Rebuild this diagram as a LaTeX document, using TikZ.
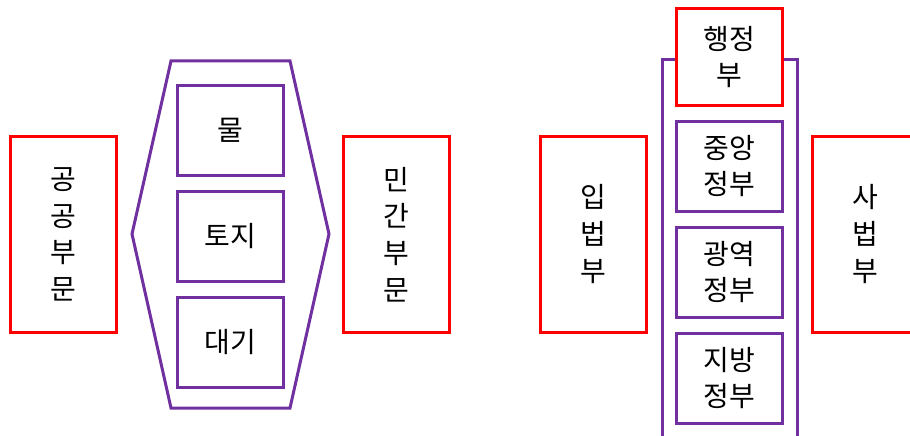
\documentclass[tikz,border=0pt]{standalone}
\usepackage{fontspec}
\setmainfont{Noto Sans CJK KR}
\usepackage{xcolor}
\usepackage{tikz}
\usetikzlibrary{positioning}

\definecolor{boxpurple}{RGB}{112,48,160}

\begin{document}
\begin{tikzpicture}[
    x=1pt, y=-1pt,
    node distance=13pt,
    every node/.style={font=\fontsize{28}{36.7}\selectfont, align=center, inner sep=0pt},
    sector/.style={rectangle, draw=red, line width=3pt, fill=white, minimum width=106pt, minimum height=196pt},
    branch/.style={rectangle, draw=red, line width=3pt, fill=white, minimum width=106pt, minimum height=96pt},
    item/.style={rectangle, draw=boxpurple, line width=3pt, fill=white, minimum width=106pt, minimum height=90pt},
    frame/.style={draw=boxpurple, line width=3pt}
]
\useasboundingbox (0,0) rectangle (910,436);

% Left: resources between sectors
\draw[frame] (171,61) -- (290,61) -- (329,234) -- (290,408) -- (171,408) -- (132,234) -- cycle;
\node[sector] (public) at (63.5,234.5) {공\\공\\부\\문};
\node[sector] (private) at (396,234.5) {민\\간\\부\\문};
\node[item] (water) at (230,130.5) {물};
\node[item, below=of water] (land) {토지};
\node[item, below=of land] (air) {대기};

% Right: branches of government
\draw[frame] (662,450) -- (662,60) -- (797,60) -- (797,450);
\node[branch] (exec) at (729,57) {행정\\부};
\node[sector] (legis) at (593,234) {입\\법\\부};
\node[sector] (judic) at (865.5,234) {사\\법\\부};
\node[item] (central) at (729,166) {중앙\\정부};
\node[item, below=of central] (metro) {광역\\정부};
\node[item, below=of metro] (local) {지방\\정부};

\end{tikzpicture}
\end{document}
